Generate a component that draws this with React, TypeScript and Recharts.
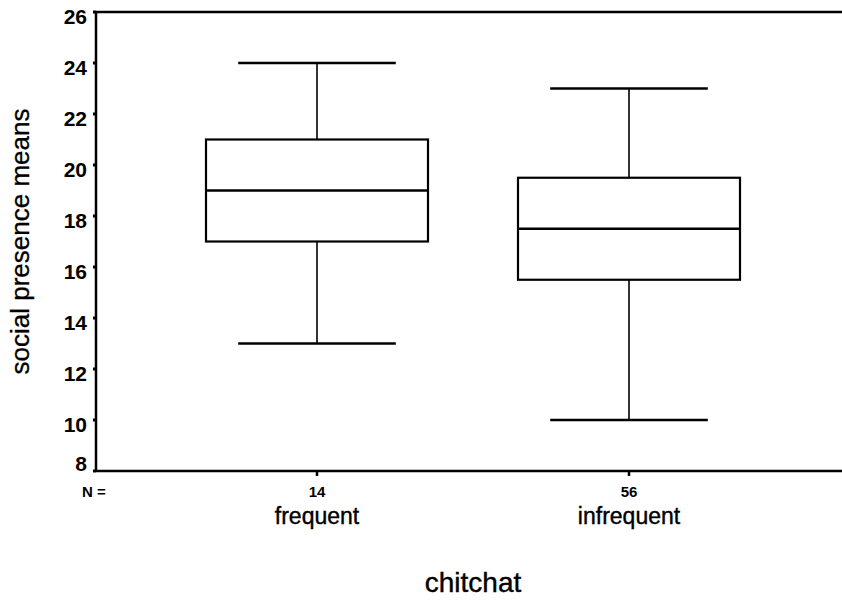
import React from 'react';
import { ComposedChart, Bar, XAxis, YAxis, ReferenceLine, Label } from 'recharts';

// Box plot values (social presence means by chitchat)
const categories = ['frequent', 'infrequent'];
const counts = [14, 56];
const whiskerLow = [13, 10];
const lowerQuartile = [17, 15.5];
const medians = [19, 17.5];
const upperQuartile = [21, 19.5];
const whiskerHigh = [24, 23];
const yTicks = [8, 10, 12, 14, 16, 18, 20, 22, 24, 26];

const FONT = '"Liberation Sans", Arial, Helvetica, sans-serif';

const data = categories.map((cat, i) => ({
  cat,
  n: counts[i],
  min: whiskerLow[i],
  q1: lowerQuartile[i],
  median: medians[i],
  q3: upperQuartile[i],
  max: whiskerHigh[i],
}));

// one range bar per group spans min..max; the box and whiskers are drawn inside it
const BoxShape = (props: any) => {
  const { x, y, width, height, payload } = props;
  if (!payload) return null;
  const top = Math.min(y, y + height);
  const bottom = Math.max(y, y + height);
  const span = payload.max - payload.min;
  const toY = (v: number) => top + ((payload.max - v) / span) * (bottom - top);
  const cx = x + width / 2;
  const capHalf = width * 0.355;
  const yQ3 = toY(payload.q3);
  const yQ1 = toY(payload.q1);
  const yMed = toY(payload.median);
  return (
    <g stroke="#000" fill="none">
      <line x1={cx} x2={cx} y1={top} y2={yQ3} strokeWidth={1.6} />
      <line x1={cx} x2={cx} y1={yQ1} y2={bottom} strokeWidth={1.6} />
      <line x1={cx - capHalf} x2={cx + capHalf} y1={top} y2={top} strokeWidth={2.4} />
      <line x1={cx - capHalf} x2={cx + capHalf} y1={bottom} y2={bottom} strokeWidth={2.4} />
      <rect x={x} y={yQ3} width={width} height={yQ1 - yQ3} fill="#fff" strokeWidth={2.2} />
      <line x1={x} x2={x + width} y1={yMed} y2={yMed} strokeWidth={2.4} />
    </g>
  );
};

const CategoryTick = (props: any) => {
  const { x, y, payload, index } = props;
  return (
    <g>
      <line x1={x} x2={x} y1={y} y2={y + 5} stroke="#000" strokeWidth={2.5} />
      <text x={x} y={y + 26} textAnchor="middle" fontFamily={FONT} fontSize={15} fontWeight="bold" fill="#000">
        {counts[index]}
      </text>
      <text x={x} y={y + 53} textAnchor="middle" fontFamily={FONT} fontSize={23} fill="#000" stroke="#000" strokeWidth={0.4}>
        {payload.value}
      </text>
    </g>
  );
};

const ValueTick = (props: any) => {
  const { x, y, payload } = props;
  // the lowest label sits above its tick in the original
  const dy = payload.value === 8 ? -8 : 4;
  return (
    <text x={x} y={y + dy} textAnchor="end" dominantBaseline="central" fontFamily={FONT} fontSize={21} fontWeight="bold" fill="#000">
      {payload.value}
    </text>
  );
};

const XTitle = (props: any) => {
  const vb = props.viewBox;
  if (!vb) return null;
  return (
    <g fontFamily={FONT} fill="#000">
      <text x={vb.x - 14} y={vb.y + 26} fontSize={15} fontWeight="bold">N =</text>
      <text x={vb.x + 377} y={vb.y + 121} textAnchor="middle" fontSize={28} stroke="#000" strokeWidth={0.4}>
        chitchat
      </text>
    </g>
  );
};

const YTitle = (props: any) => {
  const vb = props.viewBox;
  if (!vb) return null;
  const cx = vb.x + 29;
  const cy = vb.y + vb.height / 2;
  return (
    <text
      x={cx}
      y={cy}
      transform={`rotate(-90, ${cx}, ${cy})`}
      textAnchor="middle"
      fontFamily={FONT}
      fontSize={26}
      fill="#000"
      stroke="#000"
      strokeWidth={0.3}
    >
      social presence means
    </text>
  );
};

export default function App() {
  return (
    <div style={{ position: 'absolute', left: 0, top: 0, width: 842, height: 602, background: '#fff' }}>
      <ComposedChart width={842} height={602} data={data} margin={{ top: 12, right: 0, bottom: 0, left: 0 }}>
        <XAxis
          dataKey="cat"
          height={131}
          padding={{ left: 65, right: 57 }}
          axisLine={{ stroke: '#000', strokeWidth: 2.5 }}
          tickLine={false}
          tickSize={0}
          tickMargin={0}
          tick={<CategoryTick />}
          interval={0}
        >
          <Label content={<XTitle />} />
        </XAxis>
        <YAxis
          type="number"
          domain={[8, 26]}
          ticks={yTicks}
          width={96}
          axisLine={{ stroke: '#000', strokeWidth: 2.5 }}
          tickLine={{ stroke: '#000', strokeWidth: 3 }}
          tickSize={3}
          tickMargin={6}
          tick={<ValueTick />}
          interval={0}
        >
          <Label content={<YTitle />} />
        </YAxis>
        <ReferenceLine y={26} stroke="#000" strokeWidth={2.5} />
        <Bar
          dataKey={(d: any) => [d.min, d.max]}
          barSize={222}
          shape={<BoxShape />}
          isAnimationActive={false}
        />
      </ComposedChart>
    </div>
  );
}
